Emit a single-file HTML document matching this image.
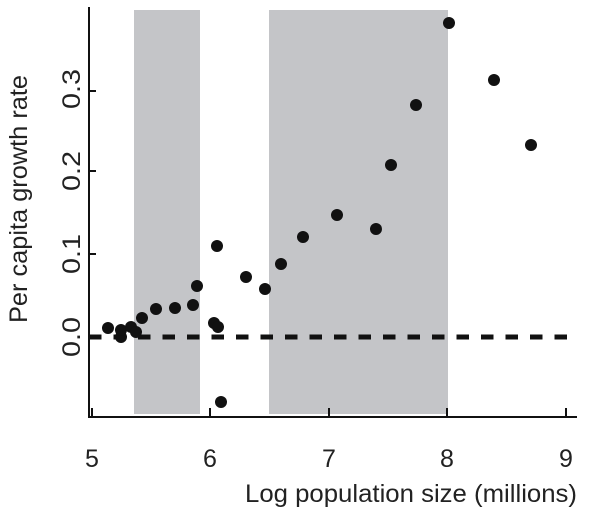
<!DOCTYPE html>
<html><head><style>body{margin:0;background:#fff}svg{display:block}</style></head><body>
<svg width="600" height="510" viewBox="0 0 600 510" xmlns="http://www.w3.org/2000/svg" font-family="Liberation Sans, sans-serif" fill="#222">
<rect x="134" y="10" width="66" height="404" fill="#c4c5c8"/>
<rect x="269" y="10" width="179" height="404" fill="#c4c5c8"/>
<line x1="89" y1="337" x2="574" y2="337" stroke="#111" stroke-width="5" stroke-dasharray="12.5 12"/>
<g stroke="#111" stroke-width="2" fill="none">
<line x1="89" y1="7" x2="89" y2="418"/>
<line x1="88" y1="417" x2="577" y2="417"/>
<line x1="92" y1="417" x2="92" y2="408"/>
<line x1="210" y1="417" x2="210" y2="408"/>
<line x1="329" y1="417" x2="329" y2="408"/>
<line x1="447" y1="417" x2="447" y2="408"/>
<line x1="566" y1="417" x2="566" y2="408"/>
<line x1="89" y1="91" x2="96" y2="91"/>
<line x1="89" y1="171" x2="96" y2="171"/>
<line x1="89" y1="254" x2="96" y2="254"/>
<line x1="89" y1="337" x2="96" y2="337"/>
</g>
<g fill="#111">
<circle cx="108" cy="328" r="6"/><circle cx="121" cy="337" r="6"/><circle cx="121" cy="330" r="6"/><circle cx="131" cy="327" r="6"/><circle cx="136" cy="332" r="6"/><circle cx="142" cy="318" r="6"/><circle cx="156" cy="309" r="6"/><circle cx="175" cy="308" r="6"/><circle cx="193" cy="305" r="6"/><circle cx="197" cy="286" r="6"/><circle cx="214" cy="323" r="6"/><circle cx="218" cy="327" r="6"/><circle cx="217" cy="246" r="6"/><circle cx="221" cy="402" r="6"/><circle cx="246" cy="277" r="6"/><circle cx="265" cy="289" r="6"/><circle cx="281" cy="264" r="6"/><circle cx="303" cy="237" r="6"/><circle cx="337" cy="215" r="6"/><circle cx="376" cy="229" r="6"/><circle cx="391" cy="165" r="6"/><circle cx="416" cy="105" r="6"/><circle cx="449" cy="23" r="6"/><circle cx="494" cy="80" r="6"/><circle cx="531" cy="145" r="6"/>
</g>
<g font-size="25" text-anchor="middle">
<text x="92" y="467">5</text><text x="210" y="467">6</text><text x="329" y="467">7</text><text x="447" y="467">8</text><text x="566" y="467">9</text>
<text x="411" y="502" textLength="332" lengthAdjust="spacingAndGlyphs">Log population size (millions)</text>
<text transform="translate(80,89) rotate(-90)" textLength="40" lengthAdjust="spacingAndGlyphs">0.3</text>
<text transform="translate(80,171) rotate(-90)" textLength="40" lengthAdjust="spacingAndGlyphs">0.2</text>
<text transform="translate(80,254) rotate(-90)" textLength="40" lengthAdjust="spacingAndGlyphs">0.1</text>
<text transform="translate(80,337) rotate(-90)" textLength="40" lengthAdjust="spacingAndGlyphs">0.0</text>
<text transform="translate(27,199) rotate(-90)" textLength="248" lengthAdjust="spacingAndGlyphs">Per capita growth rate</text>
</g>
</svg>
</body></html>
